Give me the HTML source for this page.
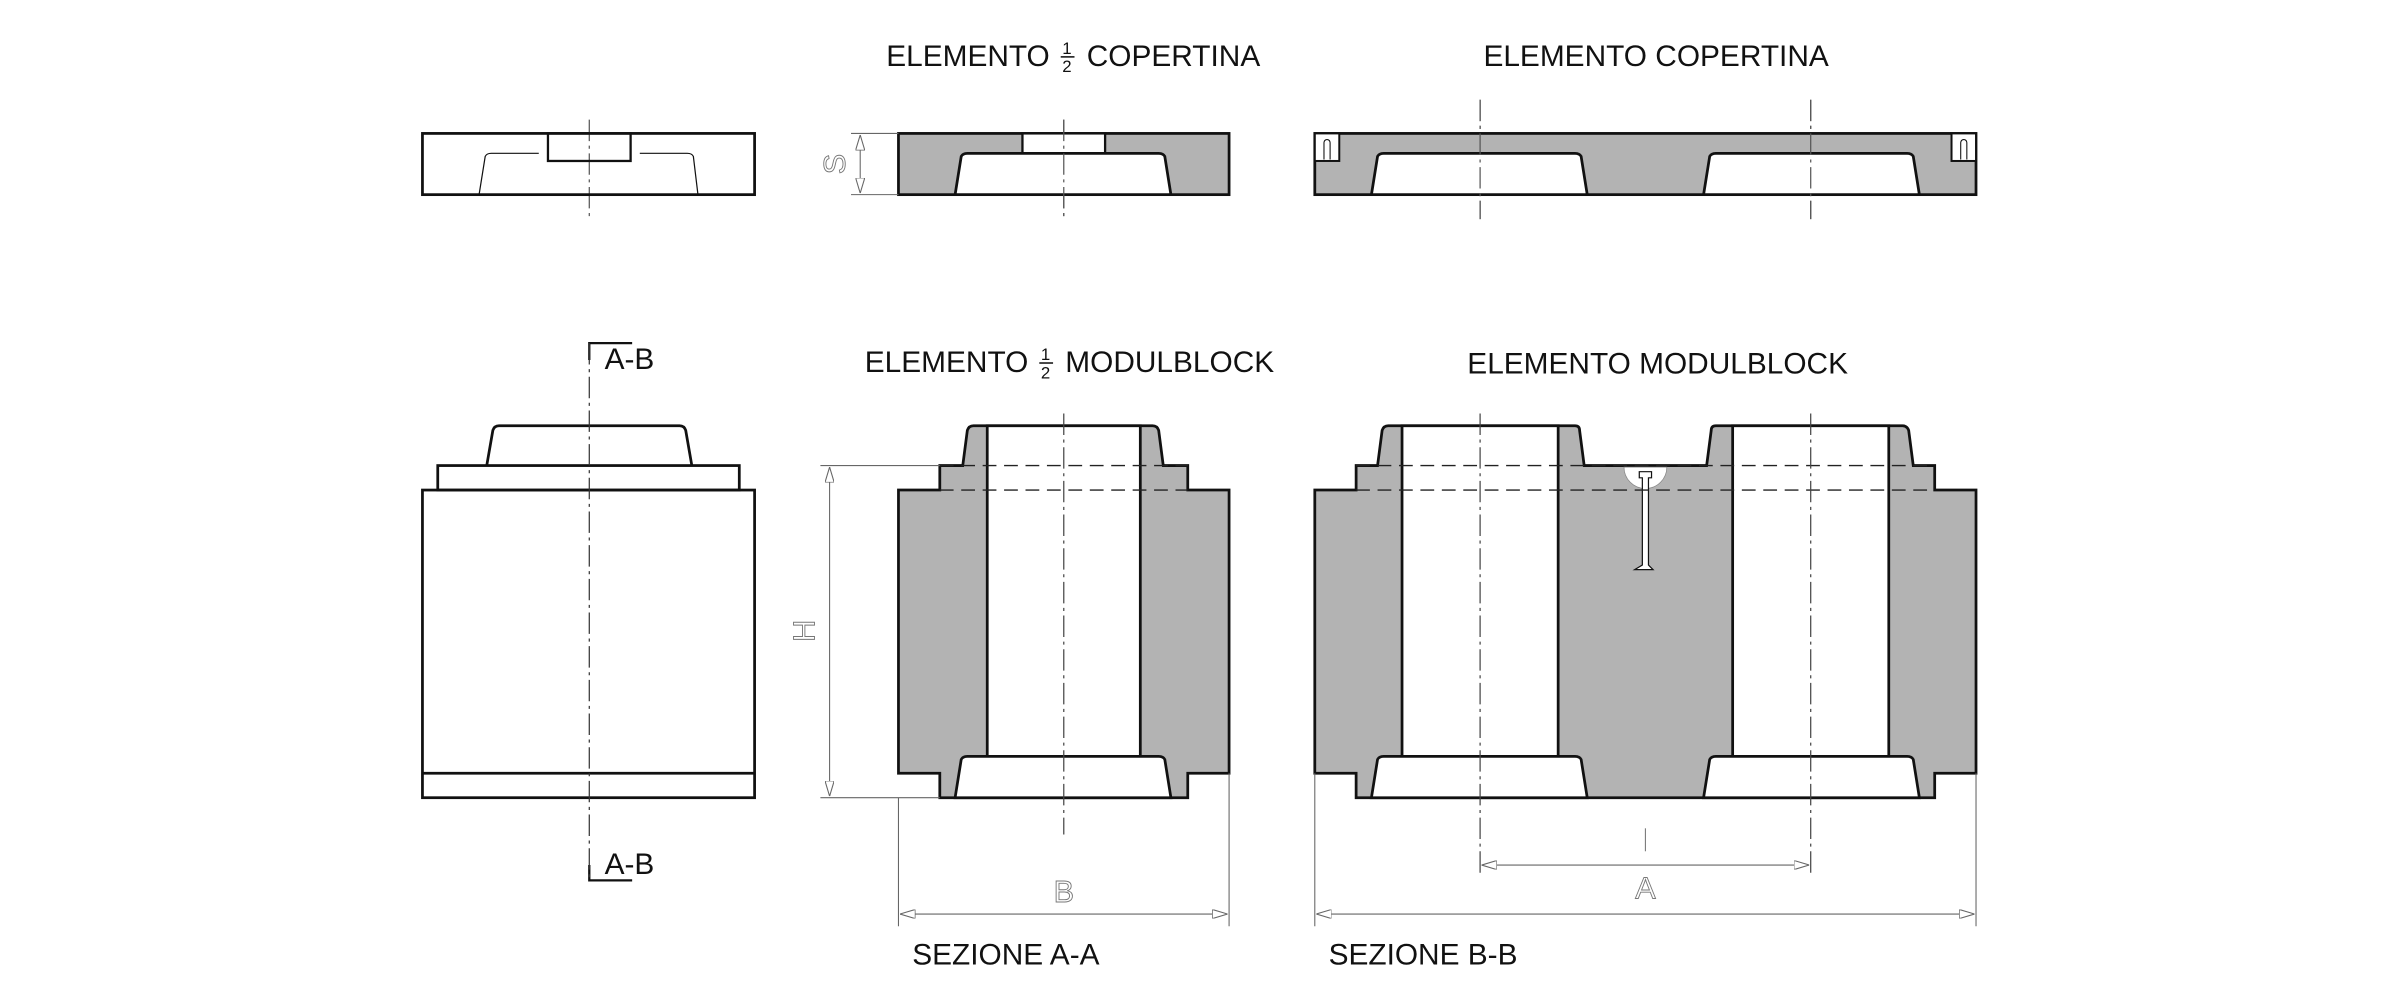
<!DOCTYPE html>
<html><head><style>
html,body{margin:0;padding:0;background:#fff;width:2400px;height:1000px;overflow:hidden}
svg{display:block}
text{font-family:"Liberation Sans",sans-serif}
</style></head><body>
<svg width="2400" height="1000" viewBox="0 0 1568 653" xmlns="http://www.w3.org/2000/svg">
<defs>
<marker id="ar" viewBox="0 0 10 6" refX="10" refY="3" markerWidth="10" markerHeight="6" markerUnits="userSpaceOnUse" orient="auto-start-reverse">
<path d="M0,0 L10,3 L0,6 Z" fill="#fff" stroke="#666" stroke-width="0.7"/></marker>
</defs>
<g fill="#111" font-size="19.5">
<text x="579" y="43">ELEMENTO</text><text x="694" y="35" font-size="11">1</text><line x1="693" y1="37" x2="702" y2="37" stroke="#111" stroke-width="1"/><text x="694" y="47" font-size="11">2</text><text x="710" y="43">COPERTINA</text>
<text x="1082" y="43" text-anchor="middle">ELEMENTO COPERTINA</text>
<text x="565" y="243">ELEMENTO</text><text x="680" y="235" font-size="11">1</text><line x1="679" y1="237" x2="688" y2="237" stroke="#111" stroke-width="1"/><text x="680" y="247" font-size="11">2</text><text x="696" y="243">MODULBLOCK</text>
<text x="1083" y="244" text-anchor="middle">ELEMENTO MODULBLOCK</text>
<text x="395" y="241">A-B</text>
<text x="395" y="571">A-B</text>
<text x="596" y="630">SEZIONE A-A</text>
<text x="868" y="630">SEZIONE B-B</text>
</g>
<g stroke="#555" stroke-width="0.8" fill="none" stroke-dasharray="14,3,2,3">
<line x1="385" y1="78" x2="385" y2="143"/>
<line x1="695" y1="78" x2="695" y2="143"/>
<line x1="967" y1="65" x2="967" y2="143"/>
<line x1="1183" y1="65" x2="1183" y2="143"/>
</g>
<!-- left cover -->
<g stroke="#111" fill="none">
<rect x="276" y="87" width="217" height="40" stroke-width="1.8"/>
<rect x="358" y="87" width="54" height="18" stroke-width="1.5"/>
<path d="M313,127 L317,102 Q318,100 321,100 L352,100 M418,100 L449,100 Q452,100 453,102 L456,127" stroke-width="0.8"/>
</g>
<!-- middle cover -->
<g stroke="#111" stroke-width="1.8">
<rect x="587" y="87" width="216" height="40" fill="#b3b3b3"/>
<rect x="668" y="87" width="54" height="18" fill="#fff" stroke-width="1.5"/>
<path d="M624,127 L628,102 Q629,100 632,100 L757,100 Q760,100 761,102 L765,127 Z" fill="#fff"/>
</g>
<line x1="695" y1="78" x2="695" y2="143" stroke="#555" stroke-width="0.8" stroke-dasharray="14,3,2,3"/>
<g stroke="#666" stroke-width="0.7">
<line x1="556" y1="87" x2="587" y2="87"/><line x1="556" y1="127" x2="587" y2="127"/>
<line x1="562" y1="88" x2="562" y2="126" marker-start="url(#ar)" marker-end="url(#ar)"/>
</g>
<text x="0" y="0" transform="translate(552,107) rotate(-90)" text-anchor="middle" font-size="20" fill="#fff" stroke="#777" stroke-width="0.6">S</text>
<!-- right cover -->
<g stroke="#111" stroke-width="1.8">
<rect x="859" y="87" width="432" height="40" fill="#b3b3b3"/>
<path d="M896,127 L900,102 Q901,100 904,100 L1029,100 Q1032,100 1033,102 L1037,127 Z" fill="#fff"/>
<path d="M1113,127 L1117,102 Q1118,100 1121,100 L1246,100 Q1249,100 1250,102 L1254,127 Z" fill="#fff"/>
<rect x="859" y="87" width="16" height="18" fill="#fff" stroke-width="1.3"/>
<rect x="1275" y="87" width="16" height="18" fill="#fff" stroke-width="1.3"/>
</g>
<g stroke="#111" stroke-width="0.7" fill="none">
<path d="M865,104 L865,93 A2,2 0 0 1 869,93 L869,104"/>
<path d="M1281,104 L1281,93 A2,2 0 0 1 1285,93 L1285,104"/>
</g>
<g stroke="#555" stroke-width="0.8" stroke-dasharray="14,3,2,3">
<line x1="967" y1="65" x2="967" y2="143"/><line x1="1183" y1="65" x2="1183" y2="143"/>
</g>
<!-- left block -->
<g stroke="#111" stroke-width="1.8" fill="none">
<path d="M318,304 L322,281 Q323,278 326,278 L444,278 Q447,278 448,281 L452,304"/>
<rect x="286" y="304" width="197" height="16"/>
<rect x="276" y="320" width="217" height="201"/>
<line x1="276" y1="505" x2="493" y2="505"/>
<path d="M385,235 L385,224 L413,224 M385,565 L385,575 L413,575" stroke-width="1.5"/>
</g>
<line x1="385" y1="224" x2="385" y2="575" stroke="#333" stroke-width="0.8" stroke-dasharray="14,3,2,3"/>
<!-- middle block -->
<g stroke="#111" stroke-width="1.8">
<path d="M629,304 L632,281 Q633,278 636,278 L753,278 Q756,278 757,281 L760,304 L776,304 L776,320 L803,320 L803,505 L776,505 L776,521 L614,521 L614,505 L587,505 L587,320 L614,320 L614,304 Z" fill="#b3b3b3"/>
<rect x="645" y="278" width="100" height="216" fill="#fff"/>
<path d="M624,521 L628,496 Q629,494 632,494 L757,494 Q760,494 761,496 L765,521 Z" fill="#fff"/>
</g>
<g stroke="#222" stroke-width="0.9" stroke-dasharray="9,5">
<line x1="614" y1="304" x2="776" y2="304"/><line x1="614" y1="320" x2="776" y2="320"/>
</g>
<line x1="695" y1="270" x2="695" y2="545" stroke="#444" stroke-width="0.8" stroke-dasharray="14,3,2,3"/>
<g stroke="#666" stroke-width="0.7">
<line x1="536" y1="304" x2="614" y2="304"/><line x1="536" y1="521" x2="614" y2="521"/>
<line x1="542" y1="305" x2="542" y2="520" marker-start="url(#ar)" marker-end="url(#ar)"/>
<line x1="587" y1="521" x2="587" y2="605"/><line x1="803" y1="505" x2="803" y2="605"/>
<line x1="588" y1="597" x2="802" y2="597" marker-start="url(#ar)" marker-end="url(#ar)"/>
</g>
<text transform="translate(532,412) rotate(-90)" text-anchor="middle" font-size="20" fill="#fff" stroke="#777" stroke-width="0.6">H</text>
<text x="695" y="589" text-anchor="middle" font-size="20" fill="#fff" stroke="#777" stroke-width="0.6">B</text>
<!-- right block -->
<g stroke="#111" stroke-width="1.8">
<path d="M886,304 L900,304 L903,281 Q904,278 907,278 L1029,278 Q1032,278 1032,281 L1035,304 L1115,304 L1118,281 Q1118,278 1121,278 L1243,278 Q1246,278 1247,281 L1250,304 L1264,304 L1264,320 L1291,320 L1291,505 L1264,505 L1264,521 L886,521 L886,505 L859,505 L859,320 L886,320 Z" fill="#b3b3b3"/>
<rect x="916" y="278" width="102" height="216" fill="#fff"/>
<rect x="1132" y="278" width="102" height="216" fill="#fff"/>
<path d="M896,521 L900,496 Q901,494 904,494 L1029,494 Q1032,494 1033,496 L1037,521 Z" fill="#fff"/>
<path d="M1113,521 L1117,496 Q1118,494 1121,494 L1246,494 Q1249,494 1250,496 L1254,521 Z" fill="#fff"/>
</g>
<path d="M1061,305 A14,14 0 0 0 1089,305 Z" fill="#fff" stroke="#888" stroke-width="0.5"/>
<path d="M1071,308 L1079,308 L1079,312 L1077,312 L1077,369 L1080,372 L1068,372 L1073,369 L1073,312 L1071,312 Z" fill="#fff" stroke="#111" stroke-width="0.8"/>
<g stroke="#222" stroke-width="0.9" stroke-dasharray="9,5">
<line x1="886" y1="304" x2="1264" y2="304"/><line x1="886" y1="320" x2="1264" y2="320"/>
</g>
<g stroke="#444" stroke-width="0.8" stroke-dasharray="14,3,2,3">
<line x1="967" y1="270" x2="967" y2="572"/><line x1="1183" y1="270" x2="1183" y2="572"/>
</g>
<g stroke="#666" stroke-width="0.7">
<line x1="968" y1="565" x2="1182" y2="565" marker-start="url(#ar)" marker-end="url(#ar)"/>
<line x1="859" y1="505" x2="859" y2="605"/><line x1="1291" y1="505" x2="1291" y2="605"/>
<line x1="860" y1="597" x2="1290" y2="597" marker-start="url(#ar)" marker-end="url(#ar)"/>
<line x1="1075" y1="541" x2="1075" y2="556" stroke="#777"/>
</g>
<text x="1075" y="587" text-anchor="middle" font-size="20" fill="#fff" stroke="#777" stroke-width="0.6">A</text>
</svg>
</body></html>
